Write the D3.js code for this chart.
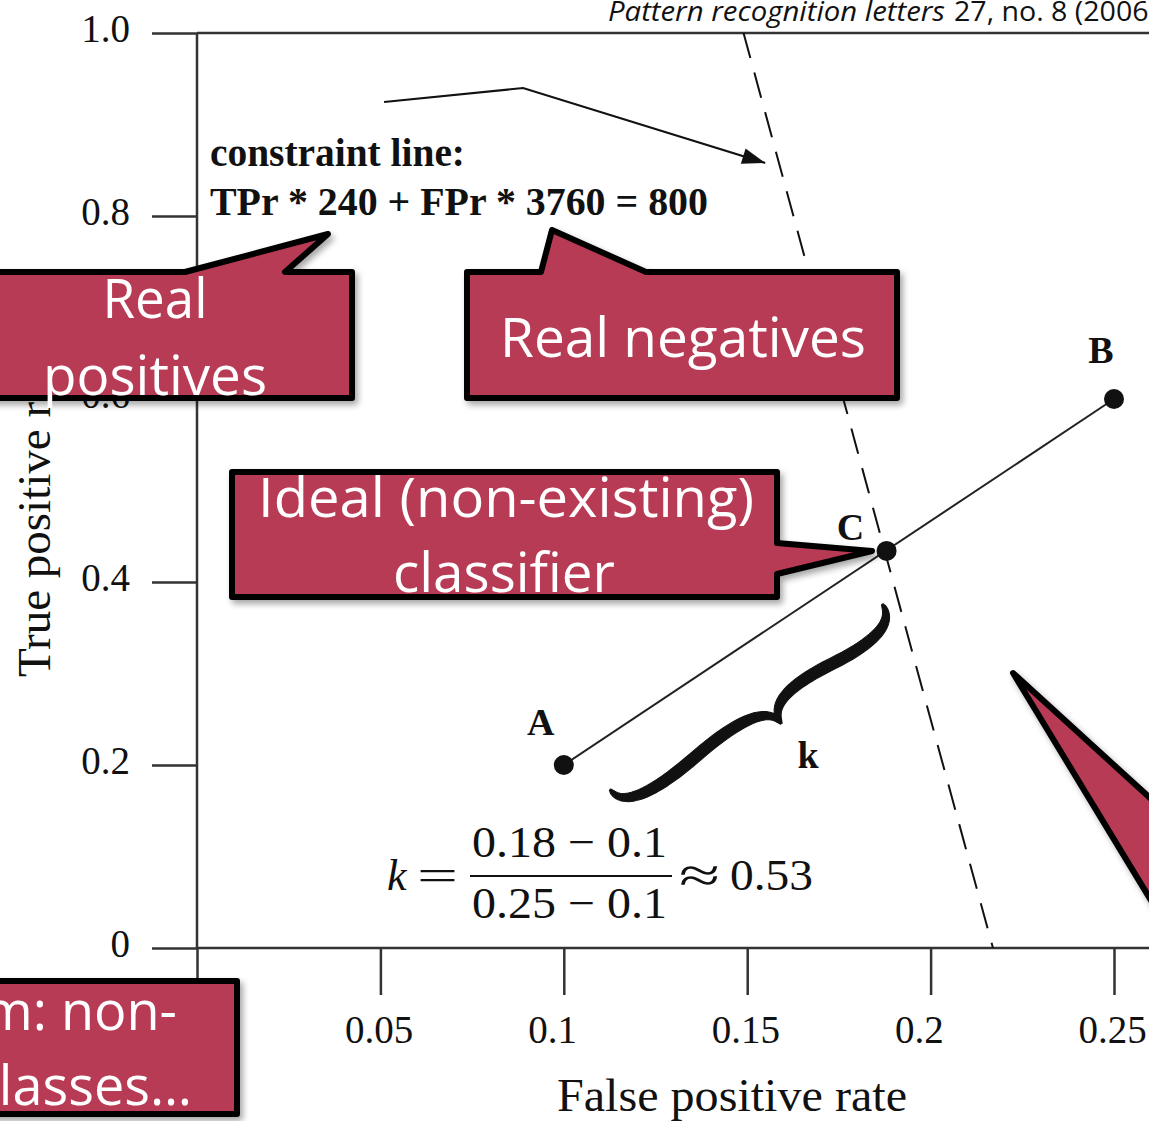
<!DOCTYPE html>
<html>
<head>
<meta charset="utf-8">
<script src="https://cdn.jsdelivr.net/npm/d3@7"></script>
<style>
  html, body { margin: 0; padding: 0; background: #fff; overflow: hidden; }
  svg { display: block; }
</style>
</head>
<body>
<svg id="chart" width="1149" height="1121"></svg>
<script>
// ---- data -------------------------------------------------------------
// ROC points of the three classifiers
const pointLabels = ["A", "B", "C"];
const pointFpr = [0.10, 0.25, 0.188];
const pointTpr = [0.20, 0.60, 0.434];

// constraint line  TPr * 240 + FPr * 3760 = 800  (end points as plotted)
const constraintFpr = [0.149, 0.217];
const constraintTpr = [1.0, 0.0];

// arrow from the constraint caption to the line
const arrowFpr = [0.051, 0.0889, 0.1549];
const arrowTpr = [0.9246, 0.9399, 0.858];

// axis ticks
const xTickValues = [0, 0.05, 0.10, 0.15, 0.20, 0.25];
const xTickLabels = ["0", "0.05", "0.1", "0.15", "0.2", "0.25"];
const yTickValues = [0, 0.2, 0.4, 0.6, 0.8, 1.0];
const yTickLabels = ["0", "0.2", "0.4", "0.6", "0.8", "1.0"];

// ---- layout -----------------------------------------------------------
const W = 1149, H = 1121;
const SERIF = "'Liberation Serif', 'Times New Roman', serif";
const SANS = "'Open Sans', 'Noto Sans', sans-serif";
const INK = "#111";
const CALLOUT_FILL = "#B83A54";

const svg = d3.select("#chart");

const x = d3.scaleLinear().domain([0, 0.25]).range([197, 1114]);
const y = d3.scaleLinear().domain([0, 1]).range([948, 33]);

const defs = svg.append("defs");
const shadow = defs.append("filter").attr("id", "shadow")
  .attr("x", "-10%").attr("y", "-10%").attr("width", "130%").attr("height", "140%");
shadow.append("feDropShadow").attr("dx", 3).attr("dy", 4)
  .attr("stdDeviation", 3).attr("flood-color", "#000").attr("flood-opacity", 0.35);

// ---- axes -------------------------------------------------------------
const axisColor = "#333";

const gx = svg.append("g").attr("transform", `translate(0,${y(0)})`)
  .call(d3.axisBottom(x).tickValues(xTickValues)
    .tickFormat((d, i) => xTickLabels[i]).tickSize(47).tickSizeOuter(0));
gx.select(".domain").remove();
gx.selectAll(".tick line").attr("stroke", axisColor).attr("stroke-width", 2.5);
gx.selectAll(".tick text")
  .attr("font-family", SERIF).attr("font-size", 39).attr("fill", INK)
  .attr("text-anchor", "start").attr("x", -36).attr("y", 95).attr("dy", null);

const gy = svg.append("g").attr("transform", `translate(${x(0)},0)`)
  .call(d3.axisLeft(y).tickValues(yTickValues)
    .tickFormat((d, i) => yTickLabels[i]).tickSize(45).tickSizeOuter(0));
gy.select(".domain").remove();
gy.selectAll(".tick line").attr("stroke", axisColor).attr("stroke-width", 2.5);
gy.selectAll(".tick text")
  .attr("font-family", SERIF).attr("font-size", 39).attr("fill", INK)
  .attr("text-anchor", "end").attr("x", -67).attr("y", 8).attr("dy", null);

// axis lines and top frame
svg.append("line").attr("x1", x(0)).attr("x2", W).attr("y1", y(0)).attr("y2", y(0))
  .attr("stroke", axisColor).attr("stroke-width", 2.5);
svg.append("line").attr("x1", x(0)).attr("x2", x(0)).attr("y1", y(1)).attr("y2", y(0))
  .attr("stroke", axisColor).attr("stroke-width", 2.5);
svg.append("line").attr("x1", x(0)).attr("x2", W).attr("y1", y(1)).attr("y2", y(1))
  .attr("stroke", axisColor).attr("stroke-width", 2.5);

// axis titles
svg.append("text").attr("x", 732).attr("y", 1111)
  .attr("text-anchor", "middle").attr("font-family", SERIF).attr("font-size", 47)
  .attr("textLength", 350).attr("lengthAdjust", "spacingAndGlyphs")
  .attr("fill", INK).text("False positive rate");
svg.append("text").attr("transform", "translate(50,677) rotate(-90)")
  .attr("text-anchor", "start").attr("font-family", SERIF).attr("font-size", 47)
  .attr("fill", INK).text("True positive rate");

// citation
svg.append("text").attr("x", 608).attr("y", 21)
  .attr("font-family", SANS).attr("font-style", "italic").attr("font-size", 27)
  .attr("textLength", 337).attr("lengthAdjust", "spacingAndGlyphs")
  .attr("fill", INK).text("Pattern recognition letters");
svg.append("text").attr("x", 954).attr("y", 21)
  .attr("font-family", SANS).attr("font-size", 27)
  .attr("textLength", 203).attr("lengthAdjust", "spacingAndGlyphs")
  .attr("fill", INK).text("27, no. 8 (2006)");

// ---- marks ------------------------------------------------------------
const line = d3.line().x(d => x(d[0])).y(d => y(d[1]));

// constraint line (dashed)
svg.append("path")
  .attr("d", line(d3.zip(constraintFpr, constraintTpr)))
  .attr("fill", "none").attr("stroke", INK).attr("stroke-width", 2)
  .attr("stroke-dasharray", "26,15");

// segment A–B through C
svg.append("path")
  .attr("d", line([[pointFpr[0], pointTpr[0]], [pointFpr[1], pointTpr[1]]]))
  .attr("fill", "none").attr("stroke", "#222").attr("stroke-width", 2);

// arrow
const arrowPts = d3.zip(arrowFpr, arrowTpr);
svg.append("path").attr("d", line(arrowPts))
  .attr("fill", "none").attr("stroke", INK).attr("stroke-width", 2.2);
{
  const n = arrowPts.length;
  const tx = x(arrowPts[n - 1][0]), ty = y(arrowPts[n - 1][1]);
  const px = x(arrowPts[n - 2][0]), py = y(arrowPts[n - 2][1]);
  const len = Math.hypot(tx - px, ty - py);
  const ux = (tx - px) / len, uy = (ty - py) / len;
  const hl = 23, hw = 8;
  const bx = tx - ux * hl, by = ty - uy * hl;
  svg.append("path")
    .attr("d", `M${tx},${ty} L${bx - uy * hw},${by + ux * hw} L${bx + uy * hw},${by - ux * hw} Z`)
    .attr("fill", INK);
}

// classifier points
svg.append("g").selectAll("circle")
  .data(pointLabels.map((l, i) => ({ l, f: pointFpr[i], t: pointTpr[i] })))
  .join("circle")
  .attr("cx", d => x(d.f)).attr("cy", d => y(d.t)).attr("r", 10)
  .attr("fill", INK);

// point letters
const labelOffset = { A: [-23, -30], B: [-13, -36], C: [-36, -11] };
svg.append("g").selectAll("text")
  .data(pointLabels.map((l, i) => ({ l, f: pointFpr[i], t: pointTpr[i] })))
  .join("text")
  .attr("x", d => x(d.f) + labelOffset[d.l][0])
  .attr("y", d => y(d.t) + labelOffset[d.l][1])
  .attr("text-anchor", "middle").attr("font-family", SERIF)
  .attr("font-weight", "bold").attr("font-size", 38).attr("fill", INK)
  .text(d => d.l);

// curly brace under segment A–C (tapered outline built from a sampled centre line)
{
  const ax = x(pointFpr[0]), ay = y(pointTpr[0]);
  const cx = x(pointFpr[2]), cy = y(pointTpr[2]);
  const d = Math.hypot(cx - ax, cy - ay);
  const ux = (cx - ax) / d, uy = (cy - ay) / d;
  const nx = -uy, ny = ux;          // normal pointing away from the segment
  const e1 = [ax + 25 * ux + 46 * nx, ay + 25 * uy + 46 * ny];
  const e2 = [cx - 33 * ux + 42 * nx, cy - 33 * uy + 42 * ny];
  const L = Math.hypot(e2[0] - e1[0], e2[1] - e1[1]);
  const ang = Math.atan2(e2[1] - e1[1], e2[0] - e1[0]) * 180 / Math.PI;
  const m = L / 2 + 14, w = 42, q = 0.75, thick = 10;

  const quad = (p0, c, p1, s) => [
    (1 - s) * (1 - s) * p0[0] + 2 * s * (1 - s) * c[0] + s * s * p1[0],
    (1 - s) * (1 - s) * p0[1] + 2 * s * (1 - s) * c[1] + s * s * p1[1]
  ];
  const armPoints = x0 => {
    const mx = (x0 + m) / 2;
    const p0 = [x0, 0], c1 = [x0, q * w], p1 = [mx, w / 2];
    const c2 = [2 * mx - x0, w - q * w], p2 = [m, w];
    const pts = [];
    const N = 40;
    for (let i = 0; i <= N; i++) {
      const s = i / N;
      pts.push(s <= 0.5 ? quad(p0, c1, p1, s * 2) : quad(p1, c2, p2, s * 2 - 1));
    }
    return pts;
  };
  const outline = pts => {
    const N = pts.length - 1, a = [], b = [];
    pts.forEach((p, i) => {
      const pa = pts[Math.max(0, i - 1)], pb = pts[Math.min(N, i + 1)];
      const tl = Math.hypot(pb[0] - pa[0], pb[1] - pa[1]) || 1;
      const tx = (pb[0] - pa[0]) / tl, ty = (pb[1] - pa[1]) / tl;
      const s = i / N;
      const h = 0.9 + (thick / 2) * Math.pow(Math.sin(Math.PI * s), 0.55);
      a.push([p[0] - ty * h, p[1] + tx * h]);
      b.push([p[0] + ty * h, p[1] - tx * h]);
    });
    return "M" + a.concat(b.reverse()).map(p => p[0].toFixed(2) + "," + p[1].toFixed(2)).join("L") + "Z";
  };
  svg.append("path")
    .attr("transform", `translate(${e1[0]},${e1[1]}) rotate(${ang})`)
    .attr("d", outline(armPoints(0)) + outline(armPoints(L)))
    .attr("fill", INK).attr("stroke", INK).attr("stroke-width", 1)
    .attr("stroke-linejoin", "round");
}
svg.append("text").attr("x", 808).attr("y", 768)
  .attr("text-anchor", "middle").attr("font-family", SERIF)
  .attr("font-weight", "bold").attr("font-size", 38).attr("fill", INK).text("k");

// constraint caption
svg.append("text").attr("x", 210).attr("y", 166)
  .attr("font-family", SERIF).attr("font-weight", "bold").attr("font-size", 40)
  .attr("textLength", 255).attr("lengthAdjust", "spacingAndGlyphs")
  .attr("fill", INK).text("constraint line:");
svg.append("text").attr("x", 210).attr("y", 215)
  .attr("font-family", SERIF).attr("font-weight", "bold").attr("font-size", 40)
  .attr("textLength", 498).attr("lengthAdjust", "spacingAndGlyphs")
  .attr("fill", INK).text("TPr * 240 + FPr * 3760 = 800");

// slope formula
const formula = svg.append("g").attr("font-family", SERIF).attr("font-size", 44).attr("fill", INK);
formula.append("text").attr("x", 387).attr("y", 890).attr("font-style", "italic").text("k");
formula.append("text").attr("x", 417).attr("y", 890)
  .attr("textLength", 41).attr("lengthAdjust", "spacingAndGlyphs").text("=");
formula.append("text").attr("x", 472).attr("y", 857)
  .attr("textLength", 195).attr("lengthAdjust", "spacingAndGlyphs").text("0.18 \u2212 0.1");
formula.append("line").attr("x1", 470).attr("x2", 672).attr("y1", 876).attr("y2", 876)
  .attr("stroke", INK).attr("stroke-width", 2);
formula.append("text").attr("x", 472).attr("y", 918)
  .attr("textLength", 195).attr("lengthAdjust", "spacingAndGlyphs").text("0.25 \u2212 0.1");
formula.append("text").attr("x", 679).attr("y", 892).attr("font-size", 50)
  .attr("textLength", 41).attr("lengthAdjust", "spacingAndGlyphs").text("\u2248");
formula.append("text").attr("x", 730).attr("y", 890)
  .attr("textLength", 83).attr("lengthAdjust", "spacingAndGlyphs").text("0.53");

// ---- callouts -----------------------------------------------------------
const callouts = svg.append("g");
const shapes = [
  [[-20, 272], [185, 272], [328, 234], [285, 272], [352, 272], [352, 398], [-20, 398]],
  [[467, 272], [541, 272], [552, 230], [646, 272], [897, 272], [897, 398], [467, 398]],
  [[232, 472], [777, 472], [777, 543], [872, 551], [777, 574], [777, 597], [232, 597]],
  [[-20, 981], [237, 981], [237, 1114], [-20, 1114]],
  [[1013, 673], [1240, 880], [1240, 1047]]
];
callouts.selectAll("path").data(shapes).join("path")
  .attr("d", d => "M" + d.map(p => p.join(",")).join("L") + "Z")
  .attr("fill", CALLOUT_FILL).attr("stroke", "#000").attr("stroke-width", 6)
  .attr("stroke-linejoin", "round").attr("filter", "url(#shadow)");

const calloutText = [
  { t: "Real", x: 155, y: 318, w: 105, a: "middle" },
  { t: "positives", x: 155, y: 395, w: 224, a: "middle" },
  { t: "Real negatives", x: 683, y: 357, w: 366, a: "middle" },
  { t: "Ideal (non-existing)", x: 506, y: 517, w: 496, a: "middle" },
  { t: "classifier", x: 504, y: 592, w: 222, a: "middle" },
  { t: "Problem: non-", x: 177, y: 1030, w: null, a: "end" },
  { t: "separable classes\u2026", x: 192, y: 1105, w: null, a: "end" }
];
callouts.selectAll("text").data(calloutText).join("text")
  .attr("x", d => d.x).attr("y", d => d.y)
  .attr("text-anchor", d => d.a)
  .attr("font-family", SANS).attr("font-size", 54).attr("fill", "#fff")
  .each(function (d) {
    if (d.w) d3.select(this).attr("textLength", d.w).attr("lengthAdjust", "spacingAndGlyphs");
  })
  .text(d => d.t);
</script>
</body>
</html>
